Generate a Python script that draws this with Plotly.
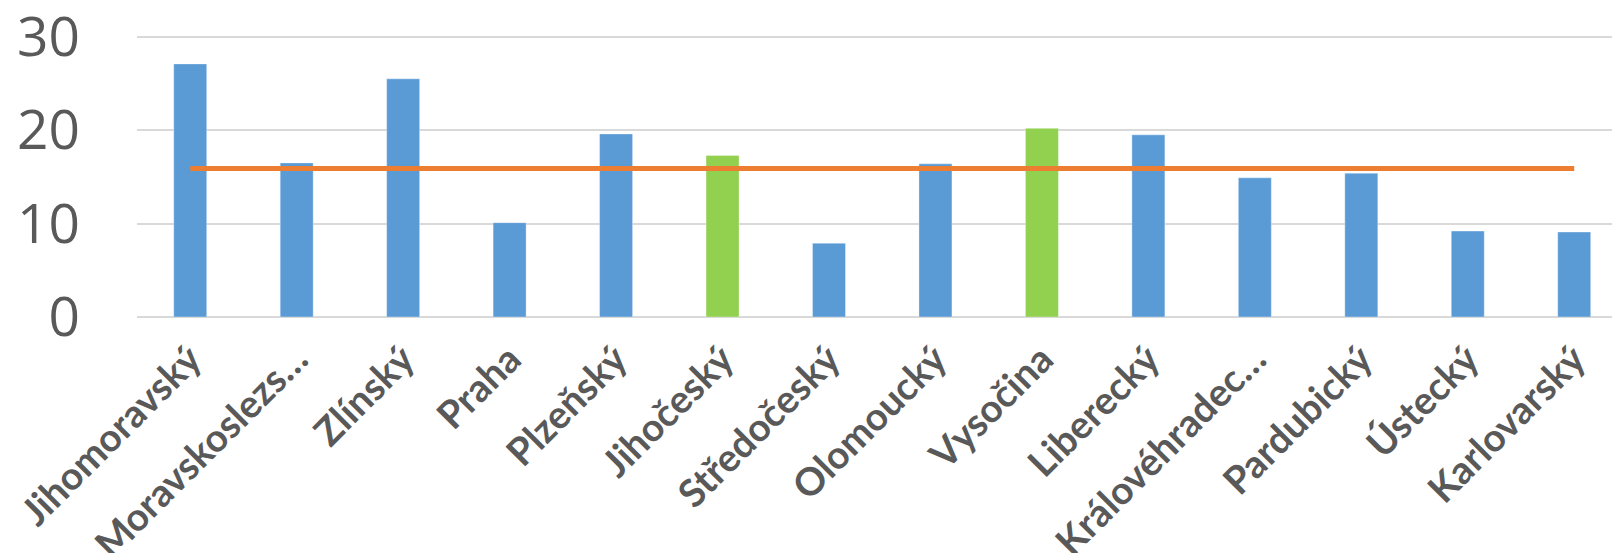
import plotly.graph_objects as go

kraje = ["Jihomoravský", "Moravskoslezs…", "Zlínský", "Praha", "Plzeňský", "Jihočeský",
         "Středočeský", "Olomoucký", "Vysočina", "Liberecký", "Královéhradec…",
         "Pardubický", "Ústecký", "Karlovarský"]
hodnoty = [27.1, 16.5, 25.5, 10.1, 19.6, 17.3, 7.9, 16.4, 20.2, 19.5, 14.9, 15.4, 9.2, 9.1]
zvyraznene = ["Jihočeský", "Vysočina"]
prumer = [15.9] * len(kraje)
y_ticks = [0, 10, 20, 30]

BLUE = "#5B9BD5"
GREEN = "#92D050"
ORANGE = "#ED7D31"
GRAY = "#595959"

colors = [GREEN if k in zvyraznene else BLUE for k in kraje]

fig = go.Figure()
fig.add_trace(go.Bar(
    x=kraje, y=hodnoty, width=0.31,
    marker=dict(color=colors, line=dict(color="rgba(255,255,255,0.35)", width=1)),
    showlegend=False,
))
fig.add_trace(go.Scatter(
    x=kraje, y=prumer, mode="lines",
    line=dict(color=ORANGE, width=5),
    showlegend=False,
))

# page body has an 8px margin, so the figure is shifted by 8px
fig.update_layout(
    width=1612, height=545,
    margin=dict(l=129, r=0, t=26, b=236, autoexpand=False),
    plot_bgcolor="white", paper_bgcolor="white",
    bargap=0.69,
)
fig.update_xaxes(
    type="category", range=[-0.5, 13.43],
    tickangle=-45, automargin=False,
    tickfont=dict(family="Lato", size=38.5, color=GRAY, weight="bold"),
    showgrid=False, showline=False, ticks="",
    ticklabelstandoff=11,
)
fig.update_yaxes(
    range=[0, 30.3], tickvals=y_ticks, automargin=False,
    tickfont=dict(family="Open Sans", size=55, color=GRAY),
    showgrid=True, gridcolor="#D9D9D9", gridwidth=1.5,
    zeroline=True, zerolinecolor="#D9D9D9", zerolinewidth=1.5,
    showline=False, ticks="",
    ticklabelstandoff=56,
    ticklabeloverflow="allow",
)

fig.write_html("out.html")
